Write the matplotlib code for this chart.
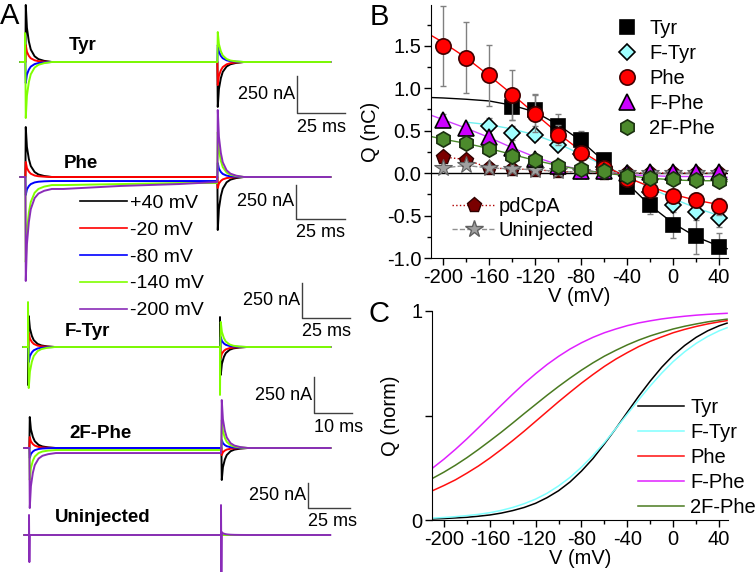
import numpy as np
import matplotlib.pyplot as plt
from matplotlib.lines import Line2D

plt.rcParams['font.family'] = ['Liberation Sans', 'DejaVu Sans']
plt.rcParams['axes.unicode_minus'] = False
plt.rcParams['font.size'] = 14.5

nan = np.nan

# ---------------- panel A : current traces (nA) ----------------
constructs = ['Tyr', 'Phe', 'F-Tyr', '2F-Phe', 'Uninjected']
step_labels = ['+40 mV', '-20 mV', '-80 mV', '-140 mV', '-200 mV']
step_colors = ['black', '#ff0000', '#0000ff', '#80ff00', '#8a2cb8']

# normalised decay of a transient, ms after the step
decay_t = [0.4, 1, 2, 3, 5, 7, 10, 14]
decay = [1.0, 0.6, 0.36, 0.22, 0.1, 0.05, 0.02, 0.0]
pulse_t = [20, 50, 80, 100]   # ms
pulse_len = 100
t_end = 159

peak_on = {
    'Tyr':        [396, 118, -146, -389, nan],
    'Phe':        [347, 104, -97, -535, -639],
    'F-Tyr':      [215, 97, -104, -285, nan],
    '2F-Phe':     [215, 76, -69, -208, -382],
    'Uninjected': [0, 0, 0, 0, 0],
}
peak_off = {
    'Tyr':        [-312, -160, 118, 208, nan],
    'Phe':        [-368, -76, 97, 312, 465],
    'F-Tyr':      [-194, -76, 69, 174, nan],
    '2F-Phe':     [-222, -49, 56, 194, 333],
    'Uninjected': [0, 0, 0, 0, 20],
}
# capacitive spikes at the step (two samples each)
no_spike = (0, 0)
spike_on = {
    'Tyr':        [no_spike, no_spike, no_spike, (201, 0), no_spike],
    'Phe':        [no_spike] * 5,
    'F-Tyr':      [(-264, 0), no_spike, no_spike, (312, 0), no_spike],
    '2F-Phe':     [no_spike] * 5,
    'Uninjected': [no_spike, no_spike, no_spike, no_spike, (139, -188)],
}
spike_off = {
    'Tyr':        [no_spike] * 5,
    'Phe':        [no_spike] * 5,
    'F-Tyr':      [(208, 0), no_spike, no_spike, (-333, 0), no_spike],
    '2F-Phe':     [no_spike] * 5,
    'Uninjected': [no_spike, no_spike, no_spike, no_spike, (208, -257)],
}
# level during the pulse (slow component), at pulse_t
zero4 = [0, 0, 0, 0]
pulse_level = {
    'Phe':    [zero4, zero4, [-28, -28, -28, -28], [-56, -49, -42, -42], [-83, -62, -49, -35]],
    '2F-Phe': [zero4, zero4, zero4, [-14, -14, -14, -14], [-35, -35, -35, -35]],
}

# ---------------- panel B : Q-V (nC) ----------------
v_all = [-200, -180, -160, -140, -120, -100, -80, -60, -40, -20, 0, 20, 40]
v_tyr = [-140, -120, -100, -80, -60, -40, -20, 0, 20, 40]
v_ftyr = [-160, -140, -120, -100, -80, -60, -40, -20, 0, 20, 40]

q_tyr = [0.78, 0.74, 0.56, 0.39, 0.16, -0.16, -0.38, -0.61, -0.74, -0.87]
e_tyr = [0.16, 0.19, 0.14, 0.11, 0.04, 0.04, 0.10, 0.15, 0.21, 0.17]
q_ftyr = [0.55, 0.47, 0.45, 0.33, 0.22, 0.07, -0.03, -0.22, -0.37, -0.46, -0.53]
e_ftyr = [0.10, 0.08, 0.06, 0.06, 0.04, 0.03, 0.03, 0.05, 0.07, 0.09, 0.10]
q_phe = [1.50, 1.36, 1.15, 0.92, 0.70, 0.45, 0.24, 0.06, -0.07, -0.20, -0.27, -0.32, -0.39]
e_phe = [0.47, 0.42, 0.36, 0.29, 0.22, 0.12, 0.06, 0.04, 0.04, 0.05, 0.05, 0.08, 0.10]
q_fphe = [0.63, 0.53, 0.42, 0.30, 0.17, 0.08, 0.03, 0.02, 0.0, 0.01, 0.01, 0.01, 0.01]
e_fphe = [0.07, 0.05, 0.04, 0.04, 0.03, 0.03, 0.02, 0.02, 0.02, 0.02, 0.02, 0.02, 0.02]
q_2fphe = [0.40, 0.36, 0.28, 0.20, 0.16, 0.08, 0.05, 0.03, -0.03, -0.06, -0.07, -0.08, -0.09]
e_2fphe = [0.04, 0.04, 0.04, 0.04, 0.04, 0.03, 0.03, 0.03, 0.03, 0.03, 0.03, 0.03, 0.03]
q_pdcpa = [0.19, 0.16, 0.06, 0.05, 0.04, 0.02, 0.01, 0.0, 0.0, 0.0, 0.0, 0.0, 0.0]
q_uninj = [0.06, 0.09, 0.06, 0.05, 0.04, 0.02, 0.01, 0.01, 0.0, 0.0, 0.0, 0.0, 0.0]

# fitted curves as drawn in B
fit_v = [-210, -200, -180, -160, -140, -120, -100, -80, -60, -40, -20, 0, 20, 40, 47]
fit_tyr = [0.89, 0.885, 0.87, 0.85, 0.80, 0.72, 0.57, 0.38, 0.14, -0.12, -0.38, -0.59, -0.75, -0.86, -0.89]
fit_phe = [1.62, 1.54, 1.36, 1.15, 0.93, 0.70, 0.47, 0.26, 0.09, -0.05, -0.16, -0.25, -0.32, -0.37, -0.39]
fit_fphe = [0.68, 0.63, 0.53, 0.42, 0.30, 0.19, 0.10, 0.04, 0.0, -0.02, -0.03, -0.04, -0.04, -0.04, -0.05]
fit_2fphe = [0.43, 0.40, 0.35, 0.29, 0.22, 0.15, 0.09, 0.04, 0.0, -0.03, -0.06, -0.08, -0.09, -0.09, -0.10]
fit_v_ftyr = [-180, -160, -140, -120, -100, -80, -60, -40, -20, 0, 20, 40, 47]
fit_ftyr = [0.60, 0.57, 0.52, 0.45, 0.35, 0.22, 0.09, -0.04, -0.17, -0.30, -0.41, -0.50, -0.53]

# ---------------- panel C : normalised Q-V ----------------
c_v = [-210, -200, -190, -180, -170, -160, -150, -140, -130, -120, -110, -100, -90,
       -80, -70, -60, -50, -40, -30, -20, -10, 0, 10, 20, 30, 40, 47]
c_tyr = [0.005, 0.007, 0.010, 0.013, 0.018, 0.024, 0.033, 0.045, 0.060, 0.080, 0.107, 0.140, 0.182,
         0.234, 0.294, 0.364, 0.438, 0.516, 0.593, 0.665, 0.731, 0.788, 0.835, 0.874, 0.905, 0.929, 0.942]
c_ftyr = [0.009, 0.012, 0.016, 0.021, 0.027, 0.035, 0.046, 0.060, 0.078, 0.100, 0.128, 0.163, 0.204,
          0.253, 0.309, 0.370, 0.438, 0.507, 0.576, 0.642, 0.703, 0.758, 0.805, 0.845, 0.878, 0.905, 0.920]
c_phe = [0.140, 0.165, 0.192, 0.224, 0.258, 0.296, 0.337, 0.380, 0.425, 0.472, 0.519, 0.566, 0.611,
         0.655, 0.696, 0.735, 0.770, 0.801, 0.830, 0.855, 0.876, 0.896, 0.912, 0.926, 0.938, 0.948, 0.954]
c_fphe = [0.248, 0.291, 0.338, 0.388, 0.441, 0.495, 0.549, 0.602, 0.653, 0.700, 0.744, 0.783, 0.818,
          0.848, 0.874, 0.896, 0.914, 0.930, 0.943, 0.953, 0.962, 0.969, 0.975, 0.980, 0.984, 0.987, 0.989]
c_2fphe = [0.199, 0.229, 0.262, 0.298, 0.337, 0.378, 0.420, 0.464, 0.509, 0.553, 0.597, 0.639, 0.679,
           0.717, 0.752, 0.784, 0.812, 0.838, 0.861, 0.881, 0.898, 0.914, 0.927, 0.938, 0.948, 0.956, 0.961]

# ---------------- figure ----------------
W, H = 755, 572
fig = plt.figure(figsize=(W / 100, H / 100), dpi=100)


def fx(x):
    return x / W


def fy(y):
    return 1 - y / H


# panel A layout (pixels)
PX_MS = 1.92
NA_PX = 250 / 36
base_px = [62, 177, 347, 448, 535]
on_px = [25, 25, 28, 29, 29]
name_xy = [(83, 45), (81, 163), (87, 332), (101, 433), (103, 517)]
bars = [(297, 76, 113, 345), (296, 185, 219, 345), (302, 283, 318, 350),
        (314, 377, 413, 352), (308, 483, 508, 350)]
bar_ms = ['25 ms', '25 ms', '25 ms', '10 ms', '25 ms']

ax_a = fig.add_axes([0, 0, 355 / W, 1])
ax_a.set_xlim(-25 / PX_MS, 330 / PX_MS)
ax_a.set_ylim(-H * NA_PX, 0)
ax_a.axis('off')

for c, name in enumerate(constructs):
    y0 = -base_px[c] * NA_PX
    t0 = (on_px[c] - 25) / PX_MS
    levels = pulse_level.get(name, [zero4] * 5)
    for i in range(5):
        pk = peak_on[name][i]
        if np.isnan(pk):
            continue
        lv = levels[i]
        s_on = spike_on[name][i]
        s_off = spike_off[name][i]
        t = ([-2.5, 0, 0, 0.2] + decay_t + pulse_t + [pulse_len, pulse_len + 0.2]
             + [pulse_len + d for d in decay_t] + [t_end - t0])
        y = ([0, 0, s_on[0], s_on[1]] + [lv[0] + pk * d for d in decay] + lv
             + [s_off[0], s_off[1]] + [peak_off[name][i] * d for d in decay] + [0])
        ax_a.plot(np.array(t) + t0, np.array(y) + y0, color=step_colors[i], lw=1.4)

for c, name in enumerate(constructs):
    fig.text(fx(name_xy[c][0]), fy(name_xy[c][1]), name, fontsize=13.5,
             fontweight='bold', ha='center', va='center')
    bx, btop, bbot, bend = bars[c]
    fig.add_artist(Line2D([fx(bx), fx(bx), fx(bend)], [fy(btop), fy(bbot), fy(bbot)],
                          color='#404040', lw=1))
    fig.text(fx(bx - 2), fy((btop + bbot) / 2), '250 nA', fontsize=13,
             ha='right', va='center')
    fig.text(fx(bx), fy(bbot + 14), bar_ms[c], fontsize=13, ha='left', va='center')

handles_a = [Line2D([], [], color=col, lw=1.2) for col in step_colors]
fig.legend(handles_a, step_labels, loc='upper left', bbox_to_anchor=(fx(80), fy(194)),
           frameon=False, fontsize=14, handlelength=2.4, handletextpad=0.15,
           labelspacing=0.48, borderpad=0, borderaxespad=0)

fig.text(0.0, fy(16), 'A', fontsize=21, ha='left', va='center')
fig.text(fx(370), fy(17), 'B', fontsize=21, ha='left', va='center')
fig.text(fx(368), fy(314), 'C', fontsize=21, ha='left', va='center')

# panel B
ax_b = fig.add_axes([fx(431), fy(258), 297 / W, 253 / H])
ax_b.set_xlim(-210.4, 47.8)
ax_b.set_ylim(-1.0, 1.98)
ax_b.axhline(0, color='black', lw=1, zorder=1)

ax_b.plot(v_all, q_pdcpa, ls=':', color='#b00000', lw=1, marker='p', ms=11,
          mfc='#7a0000', mec='#300000', mew=1, zorder=3)
ax_b.plot(v_all, q_uninj, ls='--', color='#909090', lw=1, marker='*', ms=13,
          mfc='#a0a0a0', mec='#606060', mew=0.8, zorder=3)

ax_b.plot(fit_v, fit_tyr, color='black', lw=1, zorder=2)
ax_b.plot(fit_v_ftyr, fit_ftyr, color='#70f0f0', lw=1, zorder=2)
ax_b.plot(fit_v, fit_phe, color='#ff0000', lw=1, zorder=2)
ax_b.plot(fit_v, fit_fphe, color='#d040ff', lw=1, zorder=2)
ax_b.plot(fit_v, fit_2fphe, color='#4a8a2a', lw=1, zorder=2)

series_b = [
    (v_tyr, q_tyr, e_tyr, 's', 10, '#000000', '#000000', 'Tyr'),
    (v_ftyr, q_ftyr, e_ftyr, 'D', 8, '#a0ffff', '#000000', 'F-Tyr'),
    (v_all, q_phe, e_phe, 'o', 11, '#ff0000', '#400000', 'Phe'),
    (v_all, q_fphe, e_fphe, '^', 11, '#cc00ff', '#000000', 'F-Phe'),
    (v_all, q_2fphe, e_2fphe, 'h', 11, '#4c8a2c', '#1a3010', '2F-Phe'),
]
handles_b = []
z = 4
for v, q, e, m, ms, fc, ec, lab in series_b:
    ax_b.errorbar(v, q, yerr=e, fmt='none', ecolor='#808080', elinewidth=1,
                  capsize=2.5, zorder=z)
    h, = ax_b.plot(v, q, ls='none', marker=m, ms=ms, mfc=fc, mec=ec, mew=1.2,
                   zorder=z + 0.5, label=lab)
    handles_b.append(h)
    z += 1

leg1 = ax_b.legend(handles_b, [s[-1] for s in series_b], loc='upper left',
                   bbox_to_anchor=(fx(617), fy(19)), bbox_transform=fig.transFigure,
                   frameon=False, fontsize=14.5, handlelength=1.0, handletextpad=0.6,
                   labelspacing=0.3, borderpad=0, borderaxespad=0)
ax_b.add_artist(leg1)
h_pd = Line2D([], [], ls=':', color='#b00000', lw=1, marker='p', ms=11,
              mfc='#7a0000', mec='#300000')
h_un = Line2D([], [], ls='--', color='#909090', lw=1, marker='*', ms=13,
              mfc='#a0a0a0', mec='#606060')
ax_b.legend([h_pd, h_un], ['pdCpA', 'Uninjected'], loc='upper left',
            bbox_to_anchor=(fx(452), fy(197)), bbox_transform=fig.transFigure,
            frameon=False, fontsize=14.5, handlelength=2.2, handletextpad=0.1,
            labelspacing=0.25, borderpad=0, borderaxespad=0)

ax_b.set_xticks([-200, -160, -120, -80, -40, 0, 40])
ax_b.set_xticks([-180, -140, -100, -60, -20, 20], minor=True)
ax_b.set_yticks([-1.0, -0.5, 0.0, 0.5, 1.0, 1.5])
ax_b.set_yticks([-0.75, -0.25, 0.25, 0.75, 1.25, 1.75], minor=True)
ax_b.set_yticklabels(['-1.0', '-0.5', '0.0', '0.5', '1.0', '1.5'])
ax_b.set_xlabel('V (mV)', labelpad=0)
ax_b.set_ylabel('Q (nC)')
ax_b.yaxis.set_label_coords(-51 / 297, 0.5)

# panel C
ax_c = fig.add_axes([fx(432), fy(520), 296 / W, 209 / H])
ax_c.set_xlim(-210.4, 47.8)
ax_c.set_ylim(0, 1)
ax_c.plot(c_v, c_tyr, color='black', lw=1.1, label='Tyr')
ax_c.plot(c_v, c_ftyr, color='#80ffff', lw=1.1, label='F-Tyr')
ax_c.plot(c_v, c_phe, color='#ff1010', lw=1.1, label='Phe')
ax_c.plot(c_v, c_fphe, color='#e020ff', lw=1.1, label='F-Phe')
ax_c.plot(c_v, c_2fphe, color='#4a7a20', lw=1.1, label='2F-Phe')
ax_c.legend(loc='upper left', bbox_to_anchor=(fx(638), fy(398)),
            bbox_transform=fig.transFigure, frameon=False, fontsize=14.5,
            handlelength=2.3, handletextpad=0.3, labelspacing=0.3,
            borderpad=0, borderaxespad=0)
ax_c.set_xticks([-200, -160, -120, -80, -40, 0, 40])
ax_c.set_xticks([-180, -140, -100, -60, -20, 20], minor=True)
ax_c.set_yticks([0, 0.5, 1])
ax_c.set_yticklabels(['0', '', '1'])
ax_c.set_xlabel('V (mV)', labelpad=0)
ax_c.set_ylabel('Q (norm)', labelpad=8)

for ax in (ax_b, ax_c):
    ax.spines['top'].set_visible(False)
    ax.spines['right'].set_visible(False)
    ax.tick_params(direction='out', length=5, width=1, labelsize=14.5, pad=2)
    ax.tick_params(which='minor', direction='out', length=3, width=1)

fig.savefig('out.png', dpi=100)
